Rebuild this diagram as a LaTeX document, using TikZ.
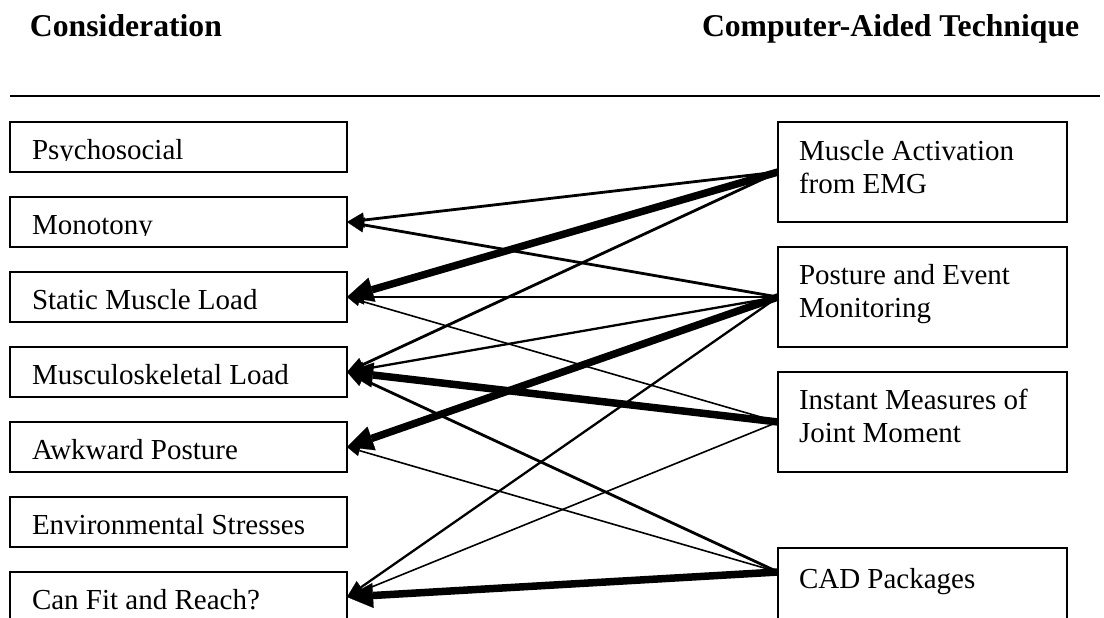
\documentclass[tikz,border=0pt]{standalone}
\usepackage{fontspec}
\setmainfont{Liberation Serif}
\usetikzlibrary{arrows.meta,calc}

\tikzset{
  lbox/.style={draw, line width=2pt, rectangle, inner sep=0pt, outer sep=0pt,
    minimum width=337pt, minimum height=50pt},
  rbox/.style={draw, line width=2pt, rectangle, inner sep=0pt, outer sep=0pt,
    minimum width=289pt, minimum height=100pt},
  bodytext/.style={inner sep=0pt, outer sep=0pt, anchor=base west,
    font=\fontsize{29}{33.3}\selectfont},
  headtext/.style={inner sep=0pt, outer sep=0pt, anchor=base west,
    font=\fontsize{31.7}{36}\selectfont\bfseries},
  thinlink/.style={line width=1.6pt,
    -{Triangle[length=13pt,width=11pt,line width=0.2pt]}},
  medlink/.style={line width=2.8pt,
    -{Triangle[length=17pt,width=15pt,line width=0.2pt]}},
  thicklink/.style={line width=7.5pt,
    -{Triangle[length=26pt,width=25pt,line width=0.2pt]}},
}

% a consideration box whose text is cut off just under its baseline
\newcommand\consbox[3]{%
  \node[lbox] (#1) at (178.5,{#2+25}) {};
  \begin{scope}
    \clip (10,#2) rectangle (347,{#2+38.7});
    \node[bodytext] (#1-t) at (32,{#2+37}) {#3};
  \end{scope}}

\begin{document}
\begin{tikzpicture}[x=1pt, y=-1pt]
\useasboundingbox (0,0) rectangle (1104,618);

% column headings and rule
\node[headtext] (h1) at (30,36.5) {Consideration};
\node[headtext] (h2) at (702,36.5) {Computer-Aided Technique};
\draw[line width=2pt] (10,96.5) -- (1100,96.5);

% considerations
\consbox{psy}{122}{Psychosocial}
\consbox{mono}{197}{Monotony}
\consbox{stat}{272}{Static Muscle Load}
\consbox{msk}{347}{Musculoskeletal Load}
\consbox{awk}{422}{Awkward Posture}
\consbox{env}{497}{Environmental Stresses}
\consbox{fit}{572}{Can Fit and Reach?}

% computer-aided techniques
\node[rbox] (emg) at (922.5,172) {};
\node[bodytext] (emg-t) at (799,160)
  {\begin{tabular}[t]{@{}l@{}}Muscle Activation\\from EMG\end{tabular}};
\node[rbox] (pem) at (922.5,297) {};
\node[bodytext] (pem-t) at (799,284.3)
  {\begin{tabular}[t]{@{}l@{}}Posture and Event\\Monitoring\end{tabular}};
\node[rbox] (ijm) at (922.5,422) {};
\node[bodytext] (ijm-t) at (799,409.3)
  {\begin{tabular}[t]{@{}l@{}}Instant Measures of\\Joint Moment\end{tabular}};
\node[rbox] (cad) at (922.5,598) {};
\node[bodytext] (cad-t) at (799,588.3) {CAD Packages};
\coordinate (cadp) at ($(cad.north west)+(0,24)$);

% links
\draw[medlink] (emg.west) -- (mono.east);
\draw[thicklink] (emg.west) -- (stat.east);
\draw[medlink] (emg.west) -- (msk.east);

\draw[medlink] (pem.west) -- (mono.east);
\draw[medlink] (pem.west) -- (stat.east);
\draw[medlink, line width=2.3pt] (pem.west) -- (msk.east);
\draw[thicklink] (pem.west) -- (awk.east);
\draw[medlink, line width=2.3pt] (pem.west) -- (fit.east);

\draw[thinlink] (ijm.west) -- (stat.east);
\draw[thicklink] (ijm.west) -- (msk.east);
\draw[thinlink] (ijm.west) -- (fit.east);

\draw[medlink] (cadp) -- (msk.east);
\draw[thinlink] (cadp) -- (awk.east);
\draw[thicklink] (cadp) -- (fit.east);
\end{tikzpicture}
\end{document}
